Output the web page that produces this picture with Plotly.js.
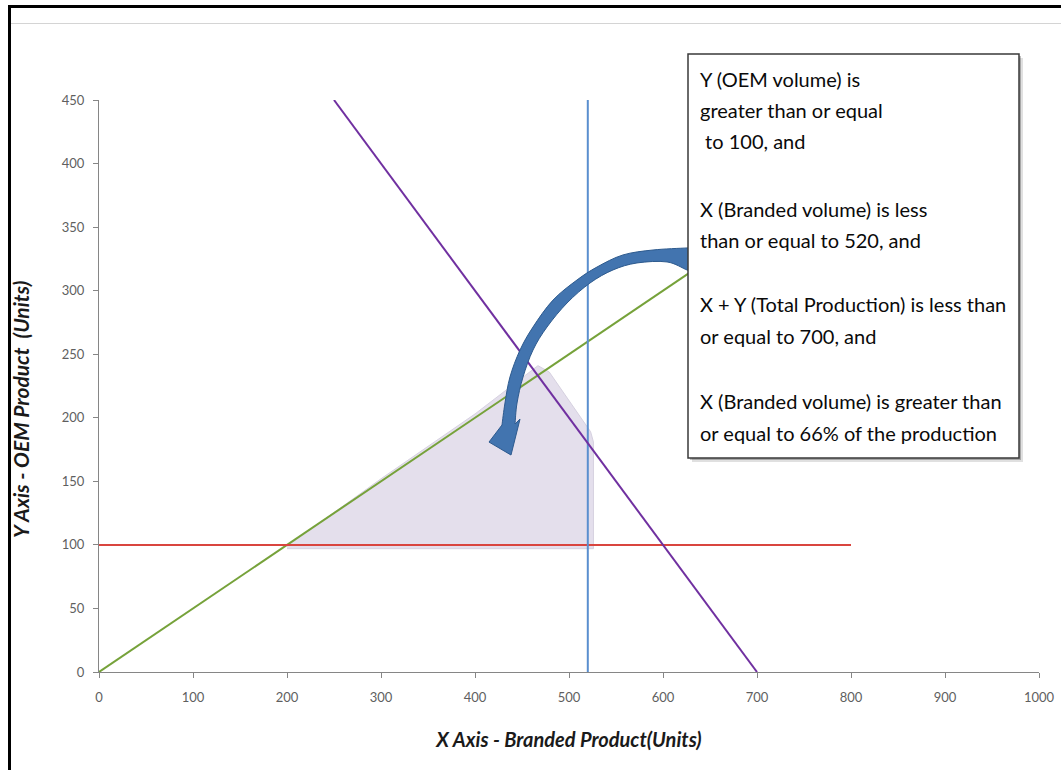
<!DOCTYPE html>
<html>
<head>
<meta charset="utf-8">
<script src="https://cdn.plot.ly/plotly-3.0.1.min.js"></script>
<style>
  html, body { margin: 0; padding: 0; background: #ffffff; }
  #chart { width: 1061px; height: 770px; }
</style>
</head>
<body>
<div id="chart"></div>
<script>
// Constraint lines of the production model
const oemMinX = [0, 800];          // Y >= 100
const oemMinY = [100, 100];
const brandMaxX = [520, 520];      // X <= 520
const brandMaxY = [0, 450];
const totalMaxX = [250, 700];      // X + Y <= 700
const totalMaxY = [450, 0];
const shareX = [0, 630];           // X >= 66% of production
const shareY = [0, 315];

// Feasible region (shaded)
const regionX = [200, 300, 400, 467, 479, 523, 526, 526, 200];
const regionY = [99, 152, 203, 241, 236, 189, 181, 97, 97];

// Curved call-out arrow, outer and inner edges (data units)
const arrowOuterX = [631, 625.5, 589.4, 557.4, 529.8, 508.5, 483.0, 461.7, 447.9, 437.2, 431.9, 428.7];
const arrowOuterY = [333.6, 333.6, 332.0, 328.1, 318.6, 308.4, 292.6, 271.4, 253.3, 232.1, 211.6, 194.3];
const arrowHeadX = [414.9, 438.3, 447.9];
const arrowHeadY = [180.9, 170.7, 199.0];
const arrowInnerX = [442.6, 444.7, 451.1, 461.7, 476.6, 497.9, 522.3, 546.8, 572.3, 604.3, 625.5, 632];
const arrowInnerY = [195.1, 211.6, 232.1, 253.3, 271.4, 290.3, 306.0, 316.3, 321.8, 322.6, 316.3, 315.5];

// Call-out text, one entry per line
const noteLines = [
  'Y (OEM volume) is',
  'greater than or equal',
  '\u00A0to 100, and',
  'X (Branded volume) is less',
  'than or equal to 520, and',
  'X + Y (Total Production) is less than',
  'or equal to 700, and',
  'X (Branded volume) is greater than',
  'or equal to 66% of the production'
];
const noteLineTops = [79, 110, 141, 209, 240, 304, 336, 401, 433];

const xTitle = 'X Axis - Branded Product(Units)';
const yTitle = 'Y Axis - OEM Product\u00A0\u00A0(Units)';

// Page geometry
const W = 1061, H = 770;
const M = { l: 99, r: 22, t: 100, b: 98 };
const plotW = W - M.l - M.r, plotH = H - M.t - M.b;
const px2p = px => (px - M.l) / plotW;
const py2p = py => (H - M.b - py) / plotH;

function smoothPath(xs, ys, start) {
  // Catmull-Rom through the points, emitted as cubic segments
  let d = start ? `M${xs[0]},${ys[0]}` : `L${xs[0]},${ys[0]}`;
  for (let i = 0; i < xs.length - 1; i++) {
    const x0 = xs[Math.max(i - 1, 0)], y0 = ys[Math.max(i - 1, 0)];
    const x1 = xs[i], y1 = ys[i];
    const x2 = xs[i + 1], y2 = ys[i + 1];
    const x3 = xs[Math.min(i + 2, xs.length - 1)], y3 = ys[Math.min(i + 2, ys.length - 1)];
    const c1x = x1 + (x2 - x0) / 6, c1y = y1 + (y2 - y0) / 6;
    const c2x = x2 - (x3 - x1) / 6, c2y = y2 - (y3 - y1) / 6;
    d += ` C${c1x},${c1y} ${c2x},${c2y} ${x2},${y2}`;
  }
  return d;
}

let arrowPath = smoothPath(arrowOuterX, arrowOuterY, true);
arrowHeadX.forEach((x, i) => { arrowPath += ` L${x},${arrowHeadY[i]}`; });
arrowPath += ' ' + smoothPath(arrowInnerX, arrowInnerY, false) + ' Z';

const lineW = 2;
const traces = [
  { x: regionX, y: regionY, type: 'scatter', mode: 'lines', fill: 'toself',
    fillcolor: 'rgb(228,223,236)', line: { color: 'rgb(214,209,224)', width: 1 }, hoverinfo: 'skip' },
  { x: shareX, y: shareY, type: 'scatter', mode: 'lines', line: { color: '#76a23a', width: lineW } },
  { x: oemMinX, y: oemMinY, type: 'scatter', mode: 'lines', line: { color: '#d9453f', width: lineW } },
  { x: brandMaxX, y: brandMaxY, type: 'scatter', mode: 'lines', line: { color: '#5a8fcf', width: lineW } },
  { x: totalMaxX, y: totalMaxY, type: 'scatter', mode: 'lines', line: { color: '#7030a0', width: lineW } }
];

const boxL = 688, boxR = 1019, boxT = 54, boxB = 458;
const shapes = [
  // curved arrow
  { type: 'path', xref: 'x', yref: 'y', path: arrowPath, layer: 'above',
    fillcolor: '#4274af', line: { color: '#2d5a8e', width: 1 } },
  // call-out box shadow and box
  { type: 'rect', xref: 'paper', yref: 'paper', layer: 'above',
    x0: px2p(boxL + 4), x1: px2p(boxR + 4), y0: py2p(boxB + 4), y1: py2p(boxT + 4),
    fillcolor: 'rgba(0,0,0,0.12)', line: { width: 0 } },
  { type: 'rect', xref: 'paper', yref: 'paper', layer: 'above',
    x0: px2p(boxL + 2), x1: px2p(boxR + 2), y0: py2p(boxB + 2), y1: py2p(boxT + 2),
    fillcolor: 'rgba(0,0,0,0.25)', line: { width: 0 } },
  { type: 'rect', xref: 'paper', yref: 'paper', layer: 'above',
    x0: px2p(boxL), x1: px2p(boxR), y0: py2p(boxB), y1: py2p(boxT),
    fillcolor: '#ffffff', line: { color: '#3a3a3a', width: 1.5 } },
  // page frame
  { type: 'line', xref: 'paper', yref: 'paper', layer: 'above',
    x0: px2p(9.5), x1: px2p(9.5), y0: py2p(5), y1: py2p(H + 10),
    line: { color: '#000000', width: 3 } },
  { type: 'line', xref: 'paper', yref: 'paper', layer: 'above',
    x0: px2p(8), x1: px2p(W + 10), y0: py2p(6.5), y1: py2p(6.5),
    line: { color: '#000000', width: 3 } },
  { type: 'line', xref: 'paper', yref: 'paper', layer: 'above',
    x0: px2p(11), x1: px2p(W + 10), y0: py2p(23.5), y1: py2p(23.5),
    line: { color: '#d4d4d4', width: 1 } }
];

const noteFont = { family: 'Lato, "Open Sans", sans-serif', size: 20, color: '#0a0a0a' };
const annotations = noteLines.map((t, i) => ({
  text: t, xref: 'paper', yref: 'paper', showarrow: false,
  x: px2p(698), y: py2p(noteLineTops[i]), xanchor: 'left', yanchor: 'middle',
  align: 'left', font: noteFont
}));

const tickFont = { family: 'Lato, sans-serif', size: 13, color: '#5f5f5f' };
const titleFont = { family: 'Lato, sans-serif', size: 20, color: '#1a1a1a', weight: 'bold', style: 'italic' };

// Vertical axis title, placed beside the tick labels
annotations.push({
  text: yTitle, xref: 'paper', yref: 'paper', showarrow: false,
  x: px2p(20), y: py2p(410), xanchor: 'center', yanchor: 'middle',
  textangle: -90, font: Object.assign({}, titleFont, { size: 21 })
});

const layout = {
  width: W, height: H,
  margin: M,
  paper_bgcolor: '#ffffff', plot_bgcolor: '#ffffff',
  showlegend: false,
  hovermode: false,
  xaxis: {
    range: [0, 1000], dtick: 100, tick0: 0,
    showgrid: false, zeroline: false,
    showline: true, linecolor: '#868686', linewidth: 1,
    ticks: 'outside', ticklen: 5, tickcolor: '#868686',
    ticklabelstandoff: 8,
    tickfont: tickFont,
    title: { text: xTitle, font: titleFont, standoff: 29 }
  },
  yaxis: {
    range: [0, 450], dtick: 50, tick0: 0,
    showgrid: false, zeroline: false,
    showline: true, linecolor: '#868686', linewidth: 1,
    ticks: 'outside', ticklen: 5, tickcolor: '#868686',
    ticklabelstandoff: 6,
    tickfont: tickFont
  },
  shapes: shapes,
  annotations: annotations
};

Plotly.newPlot('chart', traces, layout, { displayModeBar: false, staticPlot: true });
</script>
</body>
</html>
